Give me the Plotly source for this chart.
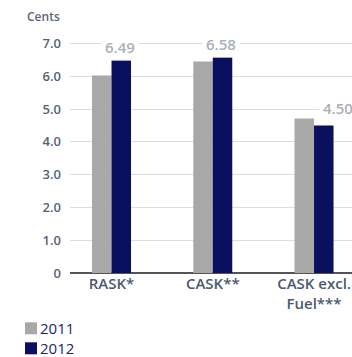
import plotly.graph_objects as go

categories = ["RASK*", "CASK**", "CASK excl.<br>Fuel***"]
years = ["2011", "2012"]
values_2011 = [6.02, 6.45, 4.71]
values_2012 = [6.49, 6.58, 4.50]
y_ticks = [0, 1, 2, 3, 4, 5, 6, 7]
y_tick_labels = ["0", "1.0", "2.0", "3.0", "4.0", "5.0", "6.0", "7.0"]

GRAY = "#a8a8a8"
NAVY = "#0b0f5f"
FONT = "Liberation Sans Narrow, Open Sans, sans-serif"
NUMFONT = "Open Sans, Liberation Sans, sans-serif"

fig = go.Figure()
fig.add_trace(go.Bar(x=categories, y=values_2011, name=years[0], marker=dict(color=GRAY, line=dict(width=0))))
fig.add_trace(go.Bar(x=categories, y=values_2012, name=years[1], marker=dict(color=NAVY, line=dict(width=0))))

# value labels for 2012, white box so the gridline breaks around them
for i, (cat, v) in enumerate(zip(categories, values_2012)):
    fig.add_annotation(
        x=cat, y=v, xref="x", yref="y", text="%.2f" % v, showarrow=False,
        xshift=10 + (14 if i == 2 else -2), yshift=13 if i < 2 else 17, yanchor="middle",
        bgcolor="white", borderpad=3,
        font=dict(family=NUMFONT, size=15, color="#aab0b8", weight=600),
    )

fig.add_annotation(
    xref="paper", yref="paper", x=-45 / 282, y=(272.7 - 16) / 246,
    text="Cents", showarrow=False, xanchor="left", yanchor="middle",
    font=dict(family=NUMFONT, size=12, color="#5a6678", weight=600),
)

# legend drawn by hand, square close to the text
for k, (yr, col) in enumerate(zip(years, [GRAY, NAVY])):
    top = 322 + k * 20
    fig.add_shape(type="rect", xref="paper", yref="paper",
                  x0=(25 - 70) / 282, x1=(37 - 70) / 282,
                  y0=(272.7 - top) / 246, y1=(272.7 - top - 12) / 246,
                  fillcolor=col, line=dict(width=0))
    fig.add_annotation(xref="paper", yref="paper", x=(38 - 70) / 282, y=(272.7 - top - 6) / 246,
                       text=yr, showarrow=False, xanchor="left", yanchor="middle",
                       font=dict(family=FONT, size=15, color="#1c2668"))

fig.update_layout(
    width=352, height=357,
    margin=dict(l=70, r=0, t=27, b=84),
    barmode="group", bargap=0.615, bargroupgap=0,
    showlegend=False,
    plot_bgcolor="white", paper_bgcolor="white",
    font=dict(family=FONT),
)
fig.update_xaxes(
    range=[-0.41, 2.375], showgrid=False, showline=False, ticks="", automargin=False,
    tickfont=dict(family=FONT, size=15, color="#4b5970", weight=600),
)
fig.update_yaxes(
    range=[0, 7.5], tickvals=y_ticks, ticktext=y_tick_labels, automargin=False,
    showgrid=True, gridcolor="#dcdcdc", gridwidth=1,
    zeroline=True, zerolinecolor="#555555", zerolinewidth=2,
    showline=False, ticks="", ticklabelstandoff=8,
    tickfont=dict(family=NUMFONT, size=13, color="#56627a", weight=600),
)

# page body has a default margin, drop it so the figure sits at the corner
fig.write_html("out.html", config={"displayModeBar": False},
               post_script="document.body.style.margin='0';")
